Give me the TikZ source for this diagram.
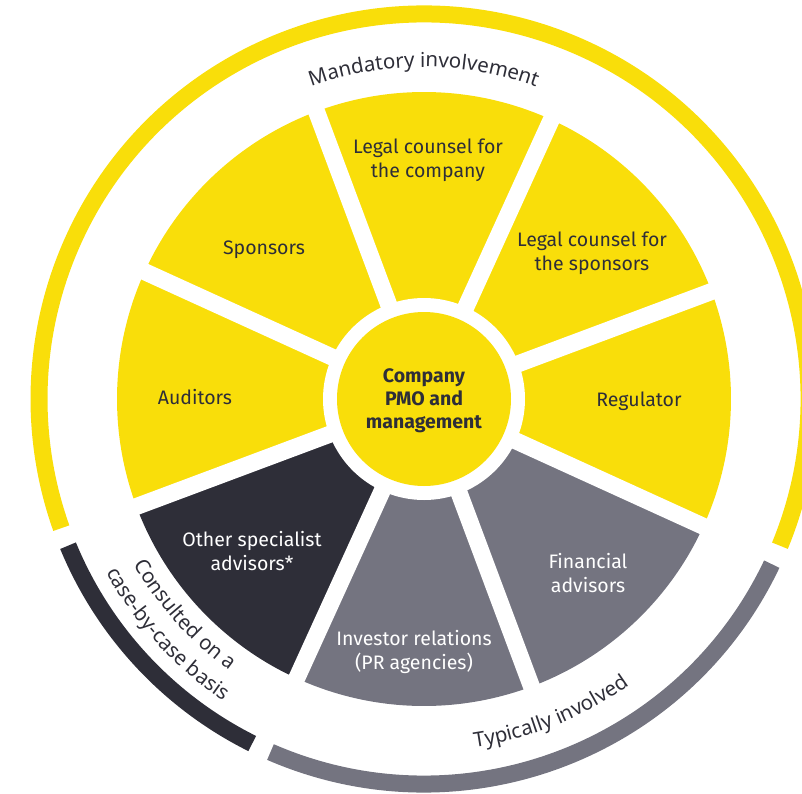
\documentclass[tikz,border=0pt]{standalone}
\usepackage{fontspec}
\setmainfont{Fira Sans}
\newfontfamily\ringfont{Noto Sans}
\usetikzlibrary{decorations.text}

\definecolor{eyyellow}{HTML}{F9DE0A}
\definecolor{eydark}{HTML}{2E2E38}
\definecolor{eygrey}{HTML}{747480}
\newcommand\ringfmt{\ringfont\fontsize{20.5}{24}\selectfont}

\tikzset{
  wedgelabel/.style={align=center, text=eydark, font=\fontsize{19.5}{24}\selectfont},
  lightlabel/.style={wedgelabel, text=white},
  hublabel/.style={wedgelabel, font=\bfseries\fontsize{19.5}{23}\selectfont},
  gapline/.style={white, line width=17pt},
  ringband/.style={line width=17pt},
  ringtext/.style={decorate, decoration={text along path, text align=center, text color=eydark, text={|\ringfmt|#1}}}
}

\begin{document}
\begin{tikzpicture}[x=1pt,y=1pt]
  \useasboundingbox (-424,-394) rectangle (378,399);
  \clip (-424,-394) rectangle (378,399);
  \draw[ringband,eyyellow] (-22.4:385) arc[start angle=-22.4, end angle=199.6, radius=385];
  \draw[ringband,eydark] (202.4:385) arc[start angle=202.4, end angle=243.5, radius=385];
  \draw[ringband,eygrey] (246.5:385) arc[start angle=246.5, end angle=334.6, radius=385];
  \foreach \a/\col in {43/eyyellow,88/eyyellow,133/eyyellow,178/eyyellow,223/eydark,268/eygrey,313/eygrey,358/eyyellow} {
    \fill[\col] (0,0) -- (\a-22.5:307) arc[start angle=\a-22.5, end angle=\a+22.5, radius=307] -- cycle;
  }
  \foreach \a in {20.5,65.5,...,335.5} {
    \draw[gapline] (0,0) -- (\a:315);
  }
  \fill[white] (0,0) circle[radius=101];
  \fill[eyyellow] (0,0) circle[radius=87];
  \node[hublabel] (hub) at (0,-2) {Company\\PMO and\\management};
  \node[wedgelabel] (legalco) at (4,239) {Legal counsel for\\the company};
  \node[wedgelabel] (legalsp) at (168,146) {Legal counsel for\\the sponsors};
  \node[wedgelabel] (sponsors) at (-160,149) {Sponsors};
  \node[wedgelabel] (auditors) at (-229,2) {Auditors};
  \node[wedgelabel] (regulator) at (215,-2) {Regulator};
  \node[lightlabel] (other) at (-172,-152) {Other specialist\\advisors*};
  \node[lightlabel] (investor) at (-10,-253) {Investor relations\\(PR agencies)};
  \node[lightlabel] (financial) at (164,-174) {Financial\\advisors};
  \path[ringtext=Mandatory involvement] (125:332) arc[start angle=125, end angle=55, radius=332];
  \path[ringtext=Typically involved] (262:352) arc[start angle=262, end angle=322, radius=352];
  \path[ringtext=Consulted on a] (200:334) arc[start angle=200, end angle=244, radius=334];
  \path[ringtext=case-by-case basis] (195:362) arc[start angle=195, end angle=250, radius=362];
\end{tikzpicture}
\end{document}
